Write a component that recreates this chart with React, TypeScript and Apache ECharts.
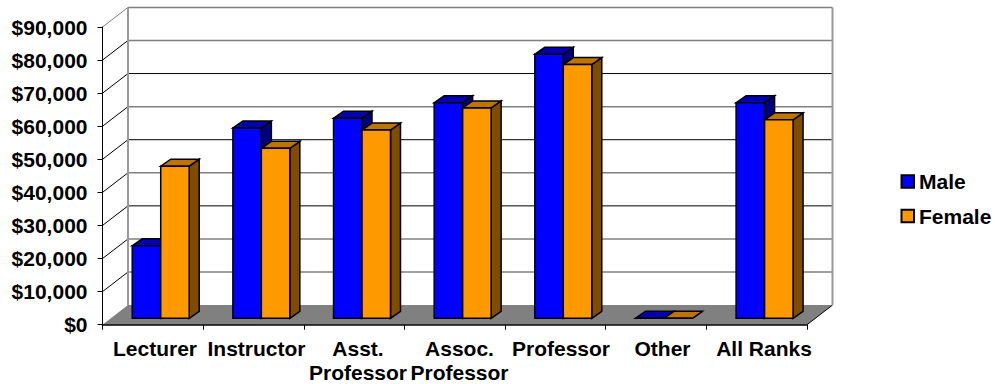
import React, { useEffect, useRef } from "react";
import * as echarts from "echarts";

const categories = ["Lecturer", "Instructor", "Asst.\nProfessor", "Assoc.\nProfessor", "Professor", "Other", "All Ranks"];
const maleValues = [21900, 57500, 60500, 65200, 79800, 0, 65200];
const femaleValues = [46000, 51400, 56900, 63600, 76700, 0, 60000];
const yTicks = [0, 10000, 20000, 30000, 40000, 50000, 60000, 70000, 80000, 90000];
const darkGridlines = [30000, 50000, 70000];

const FONT = "'Liberation Sans', Arial, sans-serif";
const WALL_DX = 25.5;
const WALL_DY = 19.6;
const BAR_SHIFT_X = 7.9;
const BAR_SHIFT_Y = 6.4;
const BAR_DX = 10;
const BAR_DY = 7;
const GRAY = "#808080";

function renderWall(params: any, api: any) {
  const cs = params.coordSys;
  const v = api.value(0);
  const y = api.coord([0, v])[1];
  const x0 = cs.x;
  const x1 = cs.x + cs.width;
  const children: any[] = [];
  const dark = darkGridlines.includes(v);
  if (v === 0) {
    children.push({
      type: "polygon",
      shape: { points: [[x0, y], [x1, y], [x1 + WALL_DX, y - WALL_DY], [x0 + WALL_DX, y - WALL_DY]] },
      style: { fill: GRAY, stroke: null },
    });
    children.push({
      type: "line",
      shape: { x1: x1, y1: y, x2: x1 + WALL_DX, y2: y - WALL_DY },
      style: { stroke: "#000", lineWidth: 1 },
    });
  } else {
    children.push({
      type: "line",
      shape: { x1: x0 + WALL_DX, y1: y - WALL_DY, x2: x1 + WALL_DX, y2: y - WALL_DY },
      style: { stroke: dark ? "#000" : GRAY, lineWidth: dark ? 1 : 1.5 },
    });
    children.push({
      type: "line",
      shape: { x1: x0, y1: y, x2: x0 + WALL_DX, y2: y - WALL_DY },
      style: { stroke: v === 90000 ? GRAY : "#000", lineWidth: 1 },
    });
  }
  if (v === 90000) {
    const yb = api.coord([0, 0])[1];
    [x0, x1].forEach((x) =>
      children.push({
        type: "line",
        shape: { x1: x + WALL_DX, y1: y - WALL_DY, x2: x + WALL_DX, y2: yb - WALL_DY },
        style: { stroke: "#999", lineWidth: 2 },
      })
    );
  }
  return { type: "group", children };
}

function barRenderer(side: number, front: string, top: string, dark: string) {
  return (_params: any, api: any) => {
    const base = api.coord([api.value(0), 0]);
    const head = api.coord([api.value(0), api.value(1)]);
    const w = api.size([1, 0])[0] * 0.283;
    const xa = base[0] + BAR_SHIFT_X + (side < 0 ? -w : 0);
    const xb = xa + w;
    const yb = base[1] - BAR_SHIFT_Y;
    const yt = head[1] - BAR_SHIFT_Y;
    const style = (fill: string) => ({ fill, stroke: "#000", lineWidth: 1.5, lineJoin: "miter" });
    return {
      type: "group",
      children: [
        {
          type: "polygon",
          shape: { points: [[xb, yb], [xb + BAR_DX, yb - BAR_DY], [xb + BAR_DX, yt - BAR_DY], [xb, yt]] },
          style: style(dark),
        },
        {
          type: "polygon",
          shape: { points: [[xa, yt], [xb, yt], [xb + BAR_DX, yt - BAR_DY], [xa + BAR_DX, yt - BAR_DY]] },
          style: style(top),
        },
        {
          type: "polygon",
          shape: { points: [[xa, yb], [xb, yb], [xb, yt], [xa, yt]] },
          style: style(front),
        },
      ],
    };
  };
}

export default function App() {
  const ref = useRef<HTMLDivElement>(null);
  useEffect(() => {
    document.body.style.margin = "0";
    const chart = echarts.init(ref.current!, null, { renderer: "svg" });
    const text = { color: "#000", fontFamily: FONT, fontWeight: "bold" as const, fontSize: 21 };
    chart.setOption({
      animation: false,
      backgroundColor: "#fff",
      grid: [
        { left: 102.5, top: 27, width: 704.5, height: 297.7 },
        { left: 104.25, top: 27, width: 710.5, height: 297.7 },
      ],
      legend: {
        data: ["Male", "Female"],
        orient: "vertical",
        left: 900.5,
        top: 169.5,
        padding: 0,
        icon: "rect",
        itemWidth: 12.5,
        itemHeight: 12.5,
        itemGap: 10.5,
        textStyle: { ...text, lineHeight: 20, padding: [0, 0, 4, 0] },
      },
      xAxis: [
        {
          type: "category",
          gridIndex: 0,
          data: categories,
          z: 3,
          axisLine: { lineStyle: { color: "#000", width: 1.5 } },
          axisTick: { show: true, length: 5, lineStyle: { color: "#000", width: 1 } },
          axisLabel: { show: false },
        },
        {
          type: "category",
          gridIndex: 1,
          data: categories,
          axisLine: { show: false },
          axisTick: { show: false },
          axisLabel: { ...text, interval: 0, margin: 12, lineHeight: 24, hideOverlap: false },
        },
      ],
      yAxis: [
        {
          type: "value",
          gridIndex: 0,
          min: 0,
          max: 90000,
          interval: 10000,
          z: 3,
          axisLine: { show: true, lineStyle: { color: "#000", width: 1 } },
          axisTick: { show: true, length: 5, lineStyle: { color: "#000", width: 1 } },
          splitLine: { show: false },
          axisLabel: {
            ...text,
            margin: 15,
            formatter: (v: number) => "$" + v.toLocaleString("en-US"),
          },
        },
        { type: "value", gridIndex: 1, min: 0, max: 90000, interval: 10000, show: false },
      ],
      series: [
        {
          type: "custom",
          name: "walls",
          z: 1,
          clip: false,
          silent: true,
          renderItem: renderWall,
          encode: { y: 0 },
          data: yTicks.map((v) => [v]),
        },
        {
          type: "custom",
          name: "Male",
          z: 4,
          clip: false,
          renderItem: barRenderer(-1, "#0000ff", "#0000b3", "#00007f"),
          encode: { x: 0, y: 1 },
          itemStyle: { color: "#0000ff", borderColor: "#000", borderWidth: 1.5 },
          data: maleValues.map((v, i) => [i, v]),
        },
        {
          type: "custom",
          name: "Female",
          z: 4,
          clip: false,
          renderItem: barRenderer(1, "#ff9900", "#bf7300", "#7f4c00"),
          encode: { x: 0, y: 1 },
          itemStyle: { color: "#ff9900", borderColor: "#000", borderWidth: 1.5 },
          data: femaleValues.map((v, i) => [i, v]),
        },
      ],
    });
    return () => chart.dispose();
  }, []);
  return <div ref={ref} style={{ width: 995, height: 384 }} />;
}
